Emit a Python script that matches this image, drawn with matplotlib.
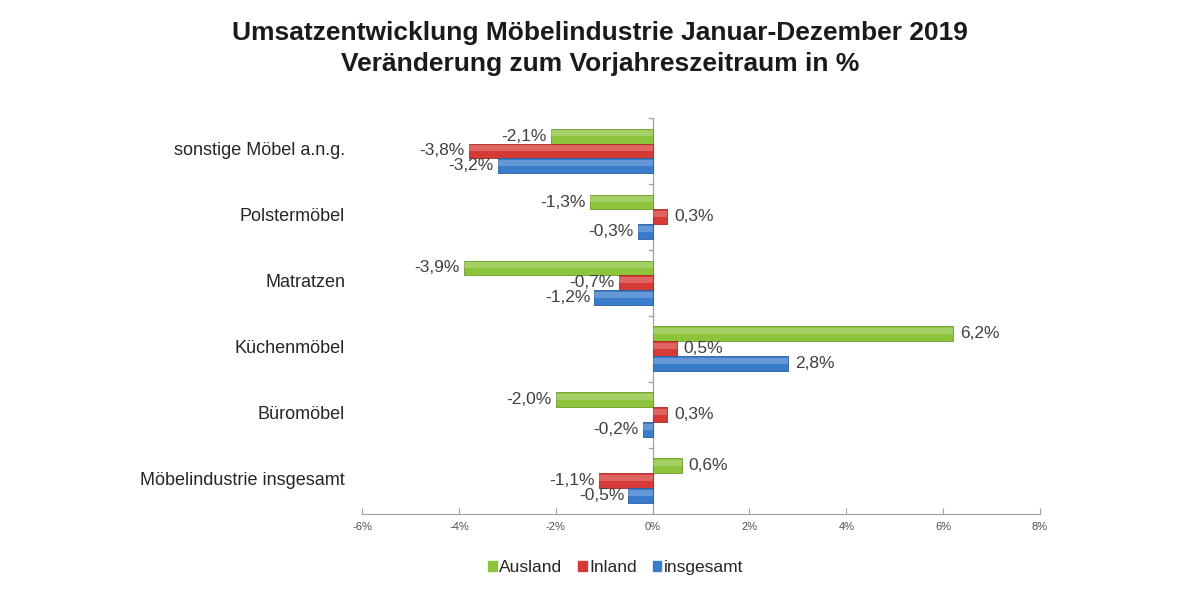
import matplotlib.pyplot as plt
import numpy as np

plt.rcParams['font.family'] = ['Liberation Sans', 'DejaVu Sans']

categories = ['sonstige Möbel a.n.g.', 'Polstermöbel', 'Matratzen',
              'Küchenmöbel', 'Büromöbel', 'Möbelindustrie insgesamt']
series_names = ['Ausland', 'Inland', 'insgesamt']
ausland = [-2.1, -1.3, -3.9, 6.2, -2.0, 0.6]
inland = [-3.8, 0.3, -0.7, 0.5, 0.3, -1.1]
insgesamt = [-3.2, -0.3, -1.2, 2.8, -0.2, -0.5]
xticks = [-6, -4, -2, 0, 2, 4, 6, 8]

colors = ['#8cc43c', '#d63a36', '#3a7ccc']
edge_colors = ['#6f9a2a', '#a82a27', '#2a5c9c']

fig = plt.figure(figsize=(12, 5.99), dpi=100)
ax = fig.add_axes([0.3017, 0.142, 0.565, 0.661])

n = len(categories)
y = np.arange(n)[::-1]  # top category first
h = 0.227
offsets = [-h, 0, h]  # ausland top, inland middle, insgesamt bottom

for vals, name, off, c, ec in zip([ausland, inland, insgesamt], series_names,
                                  offsets, colors, edge_colors):
    ypos = y - off
    ax.barh(ypos, vals, height=h, color=c, edgecolor=ec, linewidth=0.6,
            label=name, zorder=2)
    # light highlight for the glossy look
    ax.barh(ypos + h * 0.2, vals, height=h * 0.35, color='white', alpha=0.22,
            linewidth=0, zorder=3)
    for yy, v in zip(ypos, vals):
        txt = f'{v:.1f}%'.replace('.', ',')
        if v < 0:
            ax.annotate(txt, (v, yy), xytext=(-3, 0), textcoords='offset points',
                        ha='right', va='center', fontsize=12.5, color='#404040', zorder=4)
        else:
            ax.annotate(txt, (v, yy), xytext=(5, 0), textcoords='offset points',
                        ha='left', va='center', fontsize=12.5, color='#404040', zorder=4)

ax.set_xlim(-6, 8)
ax.set_ylim(-0.5, n - 0.5)
ax.set_xticks(xticks)
ax.set_xticklabels([f'{t}%' for t in xticks], fontsize=8, color='#505050')
ax.tick_params(axis='x', direction='in', length=4, color='#a0a0a0', pad=6)

ax.set_yticks([])
for s in ['top', 'right', 'left']:
    ax.spines[s].set_visible(False)
ax.spines['bottom'].set_color('#a0a0a0')

# vertical zero axis with small ticks between categories
ax.axvline(0, color='#a0a0a0', linewidth=0.9, zorder=1)
for b in np.arange(n + 1) - 0.5:
    ax.plot([-0.08, 0], [b, b], color='#a0a0a0', linewidth=0.9, zorder=1)

for yy, cat in zip(y, categories):
    ax.text(-6.35, yy, cat, ha='right', va='center', fontsize=13, color='#262626')

fig.text(0.5, 0.945, 'Umsatzentwicklung Möbelindustrie Januar-Dezember 2019',
         ha='center', va='center', fontsize=19, fontweight='bold', color='#1a1a1a')
fig.text(0.5, 0.893, 'Veränderung zum Vorjahreszeitraum in %',
         ha='center', va='center', fontsize=19, fontweight='bold', color='#1a1a1a')

handles = [plt.Rectangle((0, 0), 1, 1, color=c) for c in colors]
fig.legend(handles, series_names, loc='center', bbox_to_anchor=(0.513, 0.052),
           ncol=3, frameon=False, fontsize=12.5, handlelength=0.5, handleheight=0.5,
           handletextpad=0.15, columnspacing=0.9, labelcolor='#262626')

fig.savefig('out.png', dpi=100)
